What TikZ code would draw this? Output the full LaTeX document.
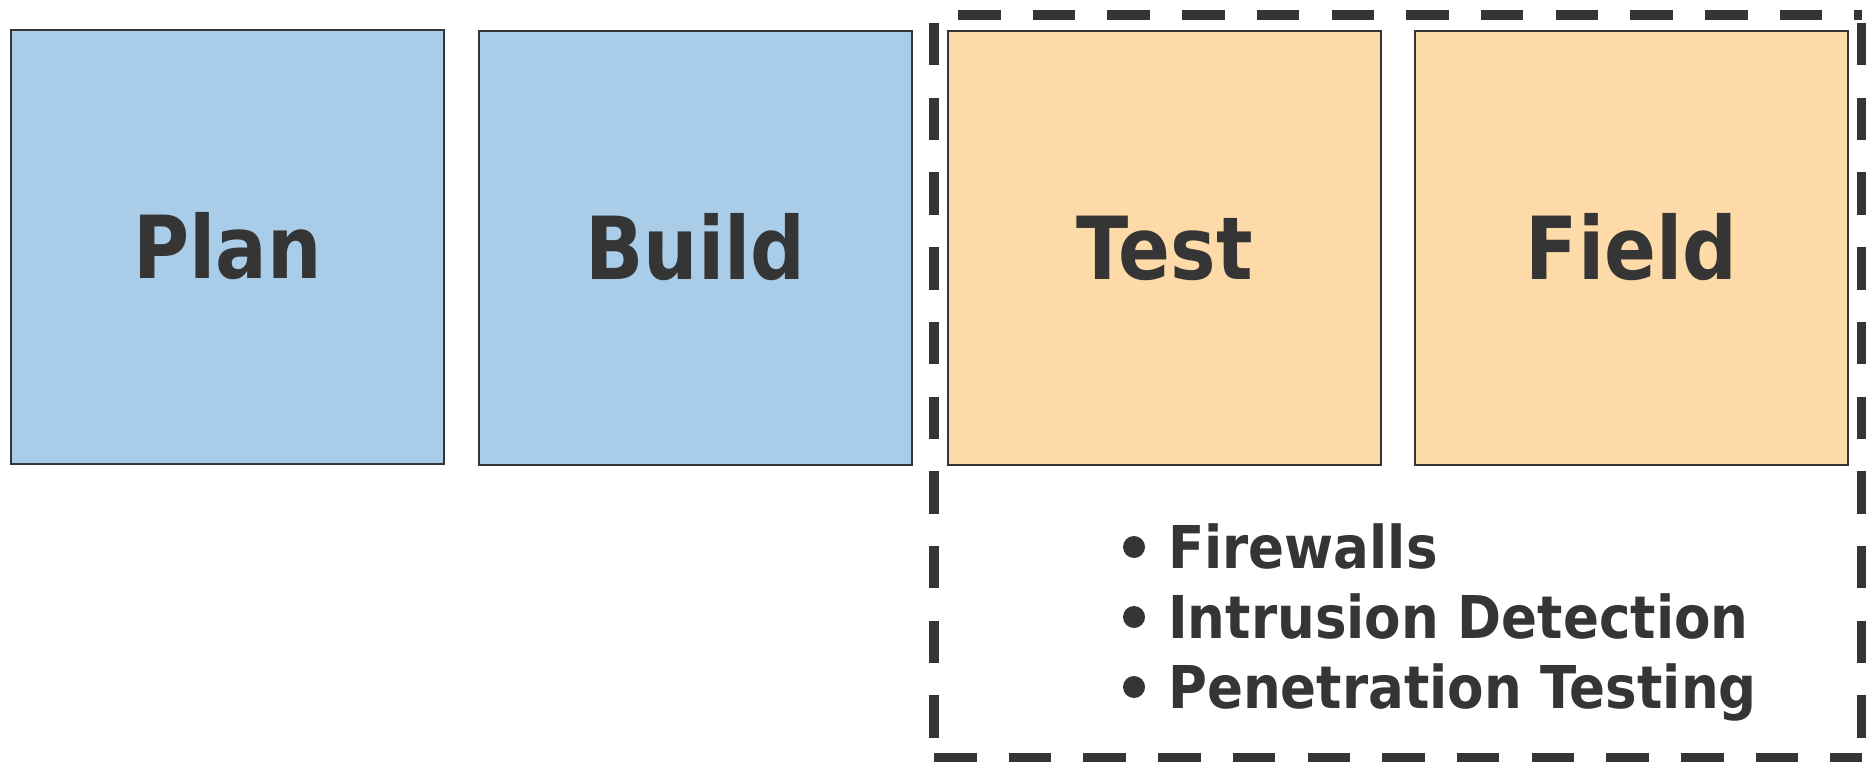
\documentclass[tikz,border=0pt]{standalone}
\usepackage{fontspec}
\setmainfont{DejaVu Sans}[FakeStretch=0.88]
\newfontfamily\itemfont{DejaVu Sans}[FakeStretch=0.9]
\definecolor{ink}{HTML}{353535}
\definecolor{stageblue}{HTML}{A9CDE8}
\definecolor{stageorange}{HTML}{FDDAA8}
\begin{document}
\begin{tikzpicture}[x=1pt,y=-1pt,
  stage/.style={draw=ink, line width=2pt, minimum width=433pt, minimum height=434pt,
    inner sep=0pt, anchor=north west, text=ink,
    font=\fontsize{87}{87}\selectfont\bfseries, text height=63pt, text depth=0pt},
  planstage/.style={stage, fill=stageblue},
  teststage/.style={stage, fill=stageorange},
  groupedge/.style={draw=ink, line width=10.5pt, dash pattern=on 42.5pt off 32.2pt},
  itemtext/.style={anchor=base west, inner sep=0pt, text=ink,
    font=\itemfont\fontsize{59}{59}\selectfont\bfseries},
  itemdot/.style={circle, fill=ink, minimum size=22pt, inner sep=0pt}]
\useasboundingbox (0,0) rectangle (1866,762);

% the four stages
\node[planstage] (plan)  at (10,29)   {Plan};
\node[planstage] (build) at (478,30)  {Build};
\node[teststage] (test)  at (947,30)  {Test};
\node[teststage] (field) at (1414,30) {Field};

% dashed frame around the test and field stages
\coordinate (gTL) at (934,15);
\coordinate (gTR) at (1862,15);
\coordinate (gBL) at (934,758.5);
\coordinate (gBR) at (1862,758.5);
\draw[groupedge, dash phase=50.7pt] (gTL) -- (gTR);
\draw[groupedge, dash phase=66.7pt] (gTL) -- (gBL);
\draw[groupedge, dash phase=66.7pt] (gTR) -- (gBR);
\draw[groupedge, dash phase=0pt] (gBL) -- (gBR);

% security measures
\node[itemdot] (d1) at (1134,547) {};
\node[itemdot] (d2) at (1134,617) {};
\node[itemdot] (d3) at (1134,687) {};
\node[itemtext] (i1) at (1168,568) {Firewalls};
\node[itemtext] (i2) at (1168,638) {Intrusion Detection};
\node[itemtext] (i3) at (1168,708) {Penetration Testing};
\end{tikzpicture}
\end{document}
